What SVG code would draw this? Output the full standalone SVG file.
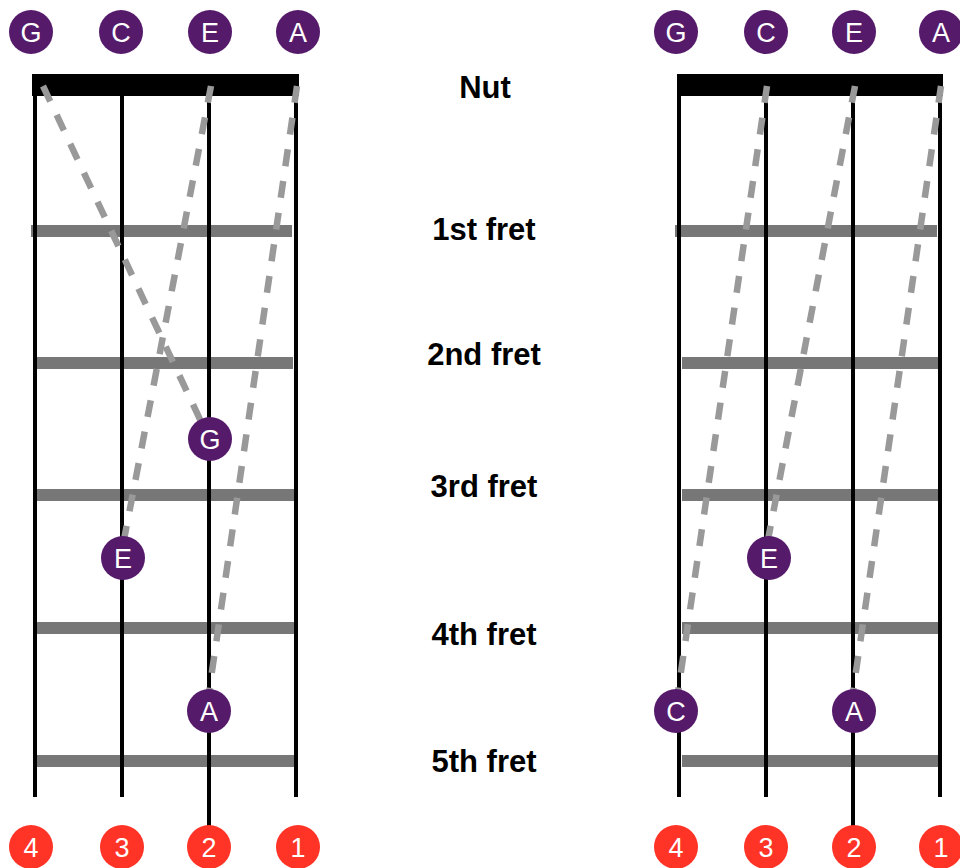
<svg xmlns="http://www.w3.org/2000/svg" width="960" height="868" viewBox="0 0 960 868">
<style>
.nut{fill:#000}
.fret{stroke:#777;stroke-width:12;fill:none}
.str{stroke:#000;stroke-width:4;fill:none}
.dash{stroke:#999;stroke-width:6.5;stroke-dasharray:17 15;fill:none}
.note{fill:#561A6B}
.num{fill:#FF3326}
.ct{fill:#fff;font-family:"Liberation Sans",Arial,sans-serif;font-size:27px;text-anchor:middle}
.lbl{fill:#000;font-family:"Liberation Sans",Arial,sans-serif;font-size:31px;font-weight:bold;text-anchor:middle}
</style>
<rect width="960" height="868" fill="#fff"/>

<g id="left-board">
<rect class="nut" x="32" y="74" width="267" height="22"/>
<line class="fret" x1="31" y1="231" x2="292" y2="231"/>
<line class="fret" x1="37" y1="363" x2="293" y2="363"/>
<line class="fret" x1="37" y1="495" x2="295" y2="495"/>
<line class="fret" x1="37" y1="628" x2="295" y2="628"/>
<line class="fret" x1="37" y1="761" x2="294" y2="761"/>
<line class="str" x1="35" y1="75" x2="35" y2="797"/>
<line class="str" x1="122" y1="75" x2="122" y2="797"/>
<line class="str" x1="209" y1="75" x2="209" y2="830"/>
<line class="str" x1="296" y1="75" x2="296" y2="797"/>
</g>

<g id="right-board">
<rect class="nut" x="677" y="74" width="266" height="22"/>
<line class="fret" x1="675" y1="231" x2="937" y2="231"/>
<line class="fret" x1="682" y1="363" x2="938" y2="363"/>
<line class="fret" x1="682" y1="495" x2="938" y2="495"/>
<line class="fret" x1="682" y1="628" x2="938" y2="628"/>
<line class="fret" x1="682" y1="761" x2="938" y2="761"/>
<line class="str" x1="679" y1="75" x2="679" y2="797"/>
<line class="str" x1="766" y1="75" x2="766" y2="797"/>
<line class="str" x1="853" y1="75" x2="853" y2="830"/>
<line class="str" x1="940" y1="75" x2="940" y2="797"/>
</g>

<g id="connectors">
<line class="dash" x1="43" y1="86" x2="205" y2="430"/>
<line class="dash" x1="211" y1="86" x2="123" y2="545"/>
<line class="dash" x1="297" y1="86" x2="209" y2="692"/>
<line class="dash" x1="767" y1="86" x2="678" y2="692"/>
<line class="dash" x1="855" y1="86" x2="767" y2="545"/>
<line class="dash" x1="941" y1="86" x2="853" y2="692"/>
</g>

<g id="top-G-left"><circle class="note" cx="31" cy="32" r="22"/><text class="ct" x="31" y="42">G</text></g>
<g id="top-C-left"><circle class="note" cx="121" cy="32" r="22"/><text class="ct" x="121" y="42">C</text></g>
<g id="top-E-left"><circle class="note" cx="210" cy="32" r="22"/><text class="ct" x="210" y="42">E</text></g>
<g id="top-A-left"><circle class="note" cx="298" cy="32" r="22"/><text class="ct" x="298" y="42">A</text></g>

<g id="top-G-right"><circle class="note" cx="676" cy="32" r="22"/><text class="ct" x="676" y="42">G</text></g>
<g id="top-C-right"><circle class="note" cx="766" cy="32" r="22"/><text class="ct" x="766" y="42">C</text></g>
<g id="top-E-right"><circle class="note" cx="854" cy="32" r="22"/><text class="ct" x="854" y="42">E</text></g>
<g id="top-A-right"><circle class="note" cx="941" cy="32" r="22"/><text class="ct" x="941" y="42">A</text></g>

<g id="note-G-left"><circle class="note" cx="210" cy="439" r="22"/><text class="ct" x="210" y="449">G</text></g>
<g id="note-E-left"><circle class="note" cx="123" cy="558" r="22"/><text class="ct" x="123" y="568">E</text></g>
<g id="note-A-left"><circle class="note" cx="209" cy="711" r="22"/><text class="ct" x="209" y="721">A</text></g>

<g id="note-E-right"><circle class="note" cx="769" cy="558" r="22"/><text class="ct" x="769" y="568">E</text></g>
<g id="note-C-right"><circle class="note" cx="676" cy="711" r="22"/><text class="ct" x="676" y="721">C</text></g>
<g id="note-A-right"><circle class="note" cx="854" cy="711" r="22"/><text class="ct" x="854" y="721">A</text></g>

<g id="num-4-left"><circle class="num" cx="31" cy="847" r="22"/><text class="ct" x="31" y="857">4</text></g>
<g id="num-3-left"><circle class="num" cx="122" cy="847" r="22"/><text class="ct" x="122" y="857">3</text></g>
<g id="num-2-left"><circle class="num" cx="209" cy="847" r="22"/><text class="ct" x="209" y="857">2</text></g>
<g id="num-1-left"><circle class="num" cx="298" cy="847" r="22"/><text class="ct" x="298" y="857">1</text></g>

<g id="num-4-right"><circle class="num" cx="676" cy="847" r="22"/><text class="ct" x="676" y="857">4</text></g>
<g id="num-3-right"><circle class="num" cx="766" cy="847" r="22"/><text class="ct" x="766" y="857">3</text></g>
<g id="num-2-right"><circle class="num" cx="854" cy="847" r="22"/><text class="ct" x="854" y="857">2</text></g>
<g id="num-1-right"><circle class="num" cx="941" cy="847" r="22"/><text class="ct" x="941" y="857">1</text></g>

<g id="labels">
<text class="lbl" x="485" y="98">Nut</text>
<text class="lbl" x="484" y="240">1st fret</text>
<text class="lbl" x="484" y="365">2nd fret</text>
<text class="lbl" x="484" y="497">3rd fret</text>
<text class="lbl" x="484" y="645">4th fret</text>
<text class="lbl" x="484" y="772">5th fret</text>
</g>
</svg>
